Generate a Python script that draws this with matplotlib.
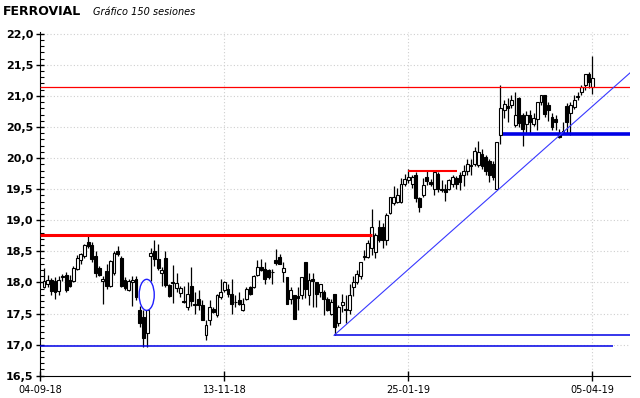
import matplotlib
matplotlib.use("Agg")
import matplotlib.pyplot as plt
from matplotlib.patches import Ellipse
from matplotlib.ticker import MultipleLocator, FuncFormatter, FixedLocator

# OHLC, 150 sessions
opens = [17.92, 17.98, 18.04, 18.03, 17.86, 18.08, 18.12, 18.04, 18.02, 18.22,
         18.36, 18.42, 18.65, 18.60, 18.42, 18.24, 18.02, 18.18, 17.94, 18.15,
         18.50, 18.39, 18.04, 17.88, 18.00, 18.06, 17.56, 17.45, 17.19, 18.42,
         18.50, 18.37, 18.15, 18.40, 17.96, 18.01, 17.91, 17.83, 17.70, 17.61,
         17.95, 17.65, 17.74, 17.64, 17.15, 17.40, 17.57, 17.48, 17.77, 17.88,
         17.90, 17.82, 17.69, 17.72, 17.56, 17.73, 17.93, 17.93, 18.12, 18.25,
         18.22, 18.20, 18.17, 18.36, 18.41, 18.16, 18.09, 17.74, 17.80, 17.78,
         17.80, 18.33, 17.80, 18.05, 18.01, 17.85, 17.85, 17.74, 17.50, 17.82,
         17.34, 17.64, 17.58, 17.55, 17.93, 18.00, 18.11, 18.41, 18.41, 18.55,
         18.49, 18.89, 18.89, 18.68, 19.11, 19.27, 19.30, 19.30, 19.59, 19.64,
         19.59, 19.72, 19.35, 19.40, 19.70, 19.62, 19.51, 19.75, 19.50, 19.51,
         19.51, 19.59, 19.68, 19.72, 19.72, 19.80, 19.89, 19.91, 19.89, 20.07,
         20.02, 19.95, 19.90, 19.51, 20.37, 20.77, 20.83, 20.85, 20.53, 20.97,
         20.69, 20.55, 20.70, 20.55, 20.63, 20.90, 21.01, 20.85, 20.66, 20.63,
         20.38, 20.43, 20.84, 20.72, 20.82, 20.98, 21.06, 21.17, 21.36, 21.14]
highs = [18.23, 18.12, 18.07, 18.08, 18.10, 18.13, 18.16, 18.12, 18.26, 18.44,
         18.48, 18.62, 18.78, 18.65, 18.50, 18.26, 18.11, 18.29, 18.36, 18.50,
         18.58, 18.42, 18.08, 18.06, 18.10, 18.10, 17.62, 17.55, 17.56, 18.55,
         18.69, 18.62, 18.25, 18.50, 17.98, 18.28, 18.15, 17.94, 17.94, 18.01,
         18.25, 17.85, 17.88, 17.72, 17.40, 17.72, 17.61, 17.82, 18.05, 18.02,
         17.98, 18.05, 17.80, 17.85, 17.75, 17.93, 17.95, 18.12, 18.36, 18.38,
         18.33, 18.22, 18.22, 18.53, 18.46, 18.33, 18.09, 17.93, 17.80, 17.93,
         18.08, 18.33, 18.15, 18.15, 18.01, 17.98, 17.88, 17.76, 17.74, 17.82,
         17.63, 17.82, 17.80, 17.97, 18.10, 18.20, 18.33, 18.52, 18.68, 19.18,
         18.80, 19.00, 18.95, 19.12, 19.38, 19.55, 19.52, 19.68, 19.75, 19.82,
         19.73, 19.78, 19.38, 19.68, 19.80, 19.67, 19.80, 19.77, 19.64, 19.59,
         19.67, 19.72, 19.71, 19.78, 19.89, 19.98, 19.99, 20.18, 20.28, 20.14,
         20.05, 19.98, 19.95, 20.26, 21.17, 20.93, 20.96, 21.01, 21.07, 20.98,
         20.72, 20.76, 20.77, 20.72, 20.90, 21.01, 21.02, 20.90, 20.72, 20.69,
         20.47, 20.58, 20.88, 20.90, 21.02, 21.06, 21.17, 21.35, 21.38, 21.64]
lows = [17.91, 17.92, 17.80, 17.74, 17.80, 18.02, 17.85, 17.92, 18.00, 18.20,
        18.30, 18.40, 18.56, 18.33, 18.08, 18.10, 17.65, 17.90, 17.92, 18.12,
        18.42, 17.92, 17.88, 17.86, 17.62, 17.72, 17.28, 16.96, 16.96, 18.02,
        18.26, 18.20, 17.95, 17.92, 17.76, 17.67, 17.85, 17.77, 17.67, 17.55,
        17.62, 17.50, 17.55, 17.39, 17.07, 17.32, 17.51, 17.45, 17.74, 17.84,
        17.77, 17.49, 17.61, 17.63, 17.54, 17.72, 17.80, 17.91, 18.10, 18.18,
        17.98, 18.06, 17.98, 18.28, 18.30, 18.00, 17.66, 17.66, 17.41, 17.56,
        17.74, 17.75, 17.63, 17.61, 17.61, 17.76, 17.48, 17.54, 17.47, 17.15,
        17.30, 17.53, 17.35, 17.50, 17.78, 17.98, 18.06, 18.36, 18.39, 18.44,
        18.40, 18.65, 18.55, 18.60, 19.10, 19.25, 19.28, 19.28, 19.55, 19.60,
        19.52, 19.30, 19.13, 19.38, 19.57, 19.55, 19.40, 19.45, 19.45, 19.31,
        19.49, 19.54, 19.50, 19.48, 19.55, 19.72, 19.72, 19.88, 19.85, 19.82,
        19.72, 19.62, 19.65, 19.50, 20.23, 20.65, 20.58, 20.80, 20.50, 20.50,
        20.20, 20.41, 20.41, 20.52, 20.45, 20.85, 20.66, 20.60, 20.45, 20.45,
        20.33, 20.38, 20.38, 20.37, 20.79, 20.93, 21.02, 21.10, 21.12, 21.03]
closes = [18.02, 18.04, 17.86, 17.85, 18.04, 18.11, 17.88, 17.94, 18.24, 18.40,
          18.45, 18.60, 18.58, 18.37, 18.15, 18.12, 18.06, 17.94, 18.34, 18.47,
          18.45, 17.94, 17.91, 18.02, 18.04, 17.76, 17.34, 17.10, 17.56, 18.48,
          18.37, 18.23, 18.20, 17.96, 17.78, 17.99, 17.99, 17.91, 17.69, 17.82,
          17.70, 17.63, 17.64, 17.40, 17.32, 17.61, 17.53, 17.80, 17.85, 18.00,
          17.82, 17.66, 17.68, 17.66, 17.66, 17.90, 17.82, 18.10, 18.25, 18.20,
          18.06, 18.09, 18.16, 18.32, 18.30, 18.23, 17.66, 17.88, 17.41, 17.75,
          18.08, 17.90, 18.04, 18.02, 17.82, 17.98, 17.74, 17.56, 17.69, 17.29,
          17.61, 17.69, 17.55, 17.80, 18.01, 18.14, 18.33, 18.41, 18.63, 18.89,
          18.76, 18.68, 18.68, 19.08, 19.38, 19.38, 19.40, 19.59, 19.67, 19.70,
          19.70, 19.35, 19.22, 19.56, 19.63, 19.59, 19.78, 19.51, 19.49, 19.46,
          19.64, 19.70, 19.59, 19.61, 19.80, 19.91, 19.88, 20.12, 20.10, 19.88,
          19.80, 19.72, 19.70, 20.26, 20.80, 20.87, 20.80, 20.93, 20.70, 20.57,
          20.47, 20.70, 20.58, 20.64, 20.90, 21.01, 20.71, 20.77, 20.50, 20.58,
          20.34, 20.42, 20.58, 20.85, 20.93, 21.00, 21.14, 21.35, 21.22, 21.28]

date_ticks = [0, 50, 100, 150]
date_labels = ["04-09-18", "13-11-18", "25-01-19", "05-04-19"]

# support / resistance lines: level, from session, to session
red_levels = [18.77, 19.80, 21.15]
red_from = [0, 100, 0]
red_to = [90.1, 113.2, 160.2]
red_widths = [2.2, 1.5, 0.9]

blue_levels = [20.38, 17.15, 16.97]
blue_from = [125.6, 79.8, 0]
blue_to = [160.2, 160.2, 155.5]
blue_widths = [2.6, 1.1, 1.1]

trend_x = [79.8, 160.2]
trend_y = [17.15, 21.37]

fig = plt.figure(figsize=(6.4, 3.98), dpi=100)
ax = fig.add_axes([0.063, 0.056, 0.9214, 0.864])

xs = list(range(1, len(closes) + 1))

# grid
for y in [17.0, 17.5, 18.0, 18.5, 19.0, 19.5, 20.0, 20.5, 21.0, 21.5, 22.0]:
    ax.axhline(y, color="#cfcfcf", lw=0.8, ls=(0, (1, 2)), zorder=0)
for x in date_ticks[1:]:
    ax.axvline(x, color="#cfcfcf", lw=0.8, ls=(0, (1, 2)), zorder=0)

# candles
ax.vlines(xs, lows, highs, color="black", lw=0.9, zorder=2)
bottoms = [min(o, c) for o, c in zip(opens, closes)]
heights = [max(abs(c - o), 0.01) for o, c in zip(opens, closes)]
fills = ["white" if c >= o else "black" for o, c in zip(opens, closes)]
ax.bar(xs, heights, bottom=bottoms, width=0.78, color=fills,
       edgecolor="black", linewidth=0.8, zorder=3)

for lvl, a, b, w in zip(red_levels, red_from, red_to, red_widths):
    ax.plot([a, b], [lvl, lvl], color="#ff0000", lw=w, zorder=4,
            solid_capstyle="butt")
for lvl, a, b, w in zip(blue_levels, blue_from, blue_to, blue_widths):
    ax.plot([a, b], [lvl, lvl], color="#0000e6", lw=w, zorder=4,
            solid_capstyle="butt")
ax.plot(trend_x, trend_y, color="#3838ff", lw=0.8, zorder=4)

ax.add_patch(Ellipse((28.9, 17.80), 4.1, 0.50, fill=False,
                     edgecolor="#2020ff", lw=1.0, zorder=5))

ax.set_xlim(0, 160.2)
ax.set_ylim(16.5, 22.03)

ax.spines["top"].set_visible(False)
ax.spines["right"].set_visible(False)

ax.yaxis.set_major_locator(MultipleLocator(0.5))
ax.yaxis.set_minor_locator(MultipleLocator(0.1))
ax.yaxis.set_major_formatter(FuncFormatter(lambda v, p: f"{v:.1f}".replace(".", ",")))
ax.tick_params(axis="y", which="major", direction="inout", length=6, width=1,
               labelsize=8, pad=2)
ax.tick_params(axis="y", which="minor", direction="in", length=3, width=0.8)
for lab in ax.get_yticklabels():
    lab.set_fontweight("bold")

ax.xaxis.set_major_locator(FixedLocator(date_ticks))
ax.set_xticklabels(date_labels)
ax.tick_params(axis="x", which="major", direction="inout", length=7, width=1,
               labelsize=7, pad=3)

fig.text(0.005, 0.962, "FERROVIAL", fontsize=9, fontweight="bold",
         ha="left", va="baseline")
fig.text(0.145, 0.962, "Gráfico 150 sesiones", fontsize=7, style="italic",
         ha="left", va="baseline")

fig.savefig("out.png", dpi=100)
